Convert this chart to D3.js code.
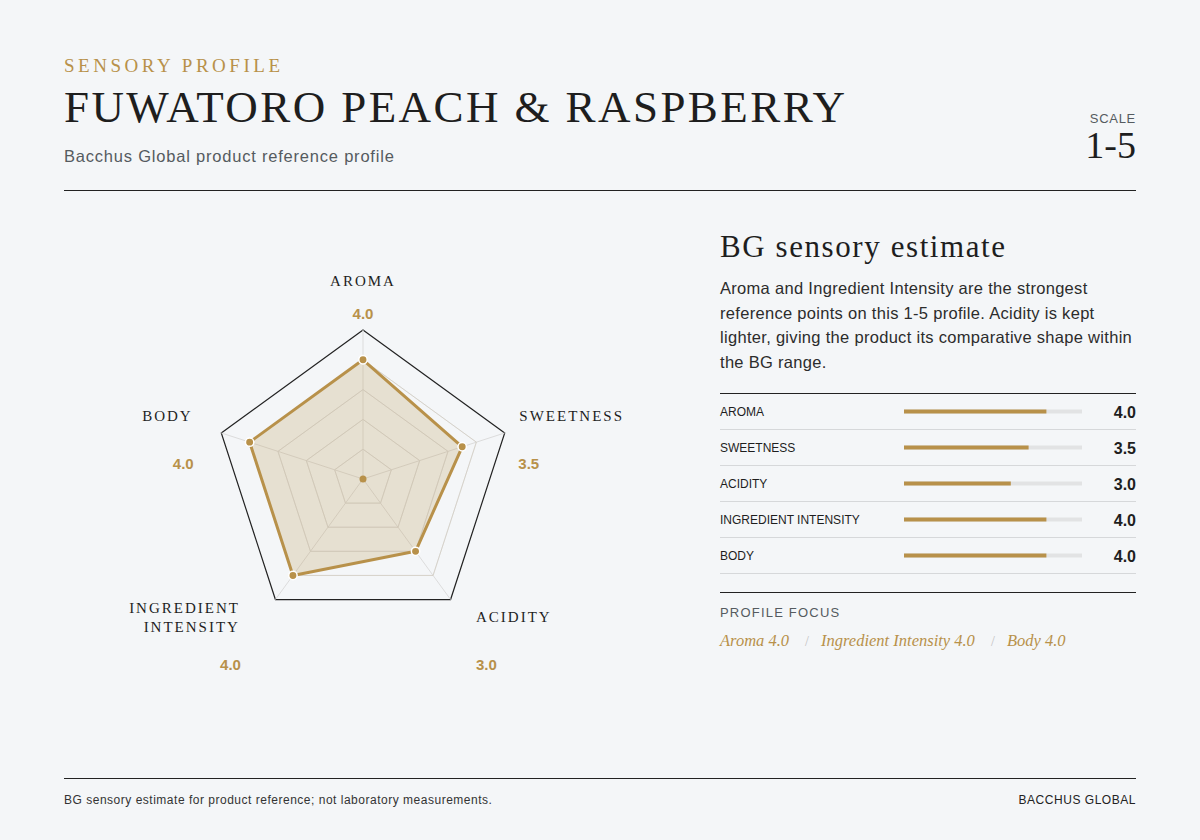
<!DOCTYPE html>
<html>
<head>
<meta charset="utf-8">
<script src="https://cdn.jsdelivr.net/npm/d3@7"></script>
<style>
  html, body { margin: 0; padding: 0; background: #f4f6f8; }
  svg { display: block; }
</style>
</head>
<body>
<svg id="chart" width="1200" height="840"></svg>
<script>
// ---------------- DATA ----------------
const axes = ["AROMA", "SWEETNESS", "ACIDITY", "INGREDIENT INTENSITY", "BODY"];
const axisLabelLines = [["AROMA"], ["SWEETNESS"], ["ACIDITY"], ["INGREDIENT", "INTENSITY"], ["BODY"]];
const values = [4.0, 3.5, 3.0, 4.0, 4.0];
const scaleTicks = [1, 2, 3, 4, 5];
const scaleDomain = [0, 5];
const focusItems = ["Aroma 4.0", "Ingredient Intensity 4.0", "Body 4.0"];
const paragraphLines = [
  "Aroma and Ingredient Intensity are the strongest",
  "reference points on this 1-5 profile. Acidity is kept",
  "lighter, giving the product its comparative shape within",
  "the BG range."
];

// ---------------- STYLE ----------------
const GOLD = "#b8914a";
const INK = "#1e1e1e";
const GREY = "#555b60";
const SERIF = "'Liberation Serif', 'DejaVu Serif', serif";
const SANS = "'Liberation Sans', Arial, sans-serif";

const svg = d3.select("#chart");

function fitWidth(sel, target) {
  const node = sel.node();
  const n = sel.text().length;
  const w = node.getComputedTextLength();
  sel.attr("letter-spacing", ((target - w) / Math.max(1, n - 1)).toFixed(2));
}

// ---------------- HEADER ----------------
const kicker = svg.append("text").attr("x", 64).attr("y", 72)
  .attr("font-family", SERIF).attr("font-size", 19).attr("fill", GOLD)
  .text("SENSORY PROFILE");
fitWidth(kicker, 216);

const title = svg.append("text").attr("x", 64).attr("y", 122)
  .attr("font-family", SERIF).attr("font-size", 45).attr("fill", INK)
  .text("FUWATORO PEACH & RASPBERRY");
fitWidth(title, 781);

const sub = svg.append("text").attr("x", 64).attr("y", 162)
  .attr("font-family", SANS).attr("font-size", 16.5).attr("fill", GREY)
  .text("Bacchus Global product reference profile");
fitWidth(sub, 330);

svg.append("text").attr("x", 1136).attr("y", 123).attr("text-anchor", "end")
  .attr("font-family", SANS).attr("font-size", 13).attr("fill", GREY)
  .attr("letter-spacing", 0.7)
  .text("SCALE");
svg.append("text").attr("x", 1136).attr("y", 158).attr("text-anchor", "end")
  .attr("font-family", SERIF).attr("font-size", 38).attr("fill", INK)
  .text(scaleTicks[0] + "-" + scaleTicks[scaleTicks.length - 1]);

svg.append("line").attr("x1", 64).attr("x2", 1136).attr("y1", 190.5).attr("y2", 190.5)
  .attr("stroke", "#222").attr("stroke-width", 1);

// ---------------- RADAR ----------------
const cx = 363, cy = 479, R = 149;
const rScale = d3.scaleLinear().domain(scaleDomain).range([0, R]);
const angle = d3.scaleLinear().domain([0, axes.length]).range([-Math.PI / 2, 1.5 * Math.PI]);
const pt = (i, v) => [cx + rScale(v) * Math.cos(angle(i)), cy + rScale(v) * Math.sin(angle(i))];

const radar = svg.append("g");
const ringLine = d3.line();

// rings
scaleTicks.forEach(t => {
  const pts = axes.map((_, i) => pt(i, t));
  const last = t === scaleDomain[1];
  radar.append("path")
    .attr("d", ringLine(pts) + "Z")
    .attr("fill", "none")
    .attr("stroke", last ? "#222" : "#dcdcdc")
    .attr("stroke-width", last ? 1.2 : 1);
});
// spokes
axes.forEach((_, i) => {
  const [x, y] = pt(i, scaleDomain[1]);
  radar.append("line").attr("x1", cx).attr("y1", cy).attr("x2", x).attr("y2", y)
    .attr("stroke", "#dcdcdc").attr("stroke-width", 1);
});

// data polygon
const dataPts = values.map((v, i) => pt(i, v));
radar.append("path")
  .attr("d", ringLine(dataPts) + "Z")
  .attr("fill", GOLD).attr("fill-opacity", 0.22)
  .attr("stroke", "none");
scaleTicks.slice(0, -1).forEach(t => {
  const pts = axes.map((_, i) => pt(i, t));
  radar.append("path").attr("d", ringLine(pts) + "Z")
    .attr("fill", "none").attr("stroke", "#cfc6b4").attr("stroke-opacity", 0.45).attr("stroke-width", 1);
});
radar.append("path")
  .attr("d", ringLine(dataPts) + "Z")
  .attr("fill", "none").attr("stroke", GOLD).attr("stroke-width", 3)
  .attr("stroke-linejoin", "round");
radar.append("circle").attr("cx", cx).attr("cy", cy).attr("r", 3.5).attr("fill", GOLD);
dataPts.forEach(([x, y]) => {
  radar.append("circle").attr("cx", x).attr("cy", y).attr("r", 4.2)
    .attr("fill", GOLD).attr("stroke", "#ffffff").attr("stroke-width", 1.5);
});

// axis labels — layout offsets relative to a point just outside the outer ring
const labelLayout = [
  { anchor: "middle", dx: 0,   dy: -16, vdx: 0,   vdy: 17 },
  { anchor: "start",  dx: -12, dy: -3,  vdx: -13, vdy: 45 },
  { anchor: "start",  dx: 9,   dy: 0,   vdx: 9,   vdy: 48 },
  { anchor: "end",    dx: -19, dy: -9,  vdx: -18, vdy: 48 },
  { anchor: "end",    dx: -2,  dy: -3,  vdx: -1,  vdy: 45 }
];
const labelR = scaleDomain[1] + 28 / R * scaleDomain[1];
axes.forEach((a, i) => {
  const [x, y] = pt(i, labelR);
  const L = labelLayout[i];
  const t = radar.append("text")
    .attr("text-anchor", L.anchor)
    .attr("font-family", SERIF).attr("font-size", 15).attr("fill", INK)
    .attr("letter-spacing", 2.0);
  axisLabelLines[i].forEach((line, k) => {
    t.append("tspan").attr("x", x + L.dx).attr("y", y + L.dy + k * 19).text(line);
  });
  radar.append("text")
    .attr("x", x + L.vdx).attr("y", y + L.vdy)
    .attr("text-anchor", L.anchor)
    .attr("font-family", SANS).attr("font-weight", "bold").attr("font-size", 15)
    .attr("fill", GOLD)
    .text(d3.format(".1f")(values[i]));
});

// ---------------- RIGHT PANEL ----------------
const panelX = 720, panelR = 1136;
const head = svg.append("text").attr("x", panelX).attr("y", 257)
  .attr("font-family", SERIF).attr("font-size", 31).attr("fill", INK)
  .text("BG sensory estimate");
fitWidth(head, 285);

svg.append("g").selectAll("text").data(paragraphLines).join("text")
  .attr("x", panelX).attr("y", (d, i) => 294 + i * 24.6)
  .attr("font-family", SANS).attr("font-size", 16.5).attr("fill", "#2c2c2c")
  .attr("letter-spacing", 0.3)
  .text(d => d);

// table
const rowTop = 393.5, rowH = 36;
svg.append("line").attr("x1", panelX).attr("x2", panelR).attr("y1", rowTop).attr("y2", rowTop)
  .attr("stroke", "#222").attr("stroke-width", 1);

const barX = d3.scaleLinear().domain(scaleDomain).range([904, 1082]);
const rows = svg.append("g").selectAll("g").data(axes).join("g")
  .attr("transform", (d, i) => `translate(0,${rowTop + i * rowH})`);
rows.append("text").attr("x", panelX).attr("y", 22)
  .attr("font-family", SANS).attr("font-size", 12).attr("fill", INK)
  .text(d => d);
rows.append("rect").attr("x", barX(0)).attr("y", 16).attr("height", 4)
  .attr("width", barX(scaleDomain[1]) - barX(0)).attr("fill", "#e2e3e4");
rows.append("rect").attr("x", barX(0)).attr("y", 16).attr("height", 4)
  .attr("width", (d, i) => barX(values[i]) - barX(0)).attr("fill", GOLD);
rows.append("text").attr("x", panelR).attr("y", 24).attr("text-anchor", "end")
  .attr("font-family", SANS).attr("font-weight", "bold").attr("font-size", 16).attr("fill", INK)
  .text((d, i) => d3.format(".1f")(values[i]));
rows.append("line").attr("x1", panelX).attr("x2", panelR).attr("y1", rowH).attr("y2", rowH)
  .attr("stroke", "#d6d8da").attr("stroke-width", 1);

// profile focus
const focusTop = 592.5;
svg.append("line").attr("x1", panelX).attr("x2", panelR).attr("y1", focusTop).attr("y2", focusTop)
  .attr("stroke", "#222").attr("stroke-width", 1);
svg.append("text").attr("x", panelX).attr("y", 617)
  .attr("font-family", SANS).attr("font-size", 13).attr("fill", GREY).attr("letter-spacing", 1.2)
  .text("PROFILE FOCUS");

let fx = panelX;
focusItems.forEach((f, i) => {
  if (i > 0) {
    svg.append("text").attr("x", fx + 16).attr("y", 646)
      .attr("font-family", SERIF).attr("font-size", 14).attr("fill", "#c4c4c4").text("/");
    fx += 32;
  }
  const t = svg.append("text").attr("x", fx).attr("y", 646)
    .attr("font-family", SERIF).attr("font-style", "italic").attr("font-size", 16.5)
    .attr("fill", GOLD).text(f);
  fx += t.node().getComputedTextLength();
});

// ---------------- FOOTER ----------------
svg.append("line").attr("x1", 64).attr("x2", 1136).attr("y1", 778.5).attr("y2", 778.5)
  .attr("stroke", "#222").attr("stroke-width", 1);
const foot = svg.append("text").attr("x", 64).attr("y", 804)
  .attr("font-family", SANS).attr("font-size", 12).attr("fill", "#333")
  .text("BG sensory estimate for product reference; not laboratory measurements.");
fitWidth(foot, 428);
const brand = svg.append("text").attr("x", 1136).attr("y", 804).attr("text-anchor", "end")
  .attr("font-family", SANS).attr("font-size", 12).attr("fill", "#222")
  .text("BACCHUS GLOBAL");
fitWidth(brand, 117);
</script>
</body>
</html>
